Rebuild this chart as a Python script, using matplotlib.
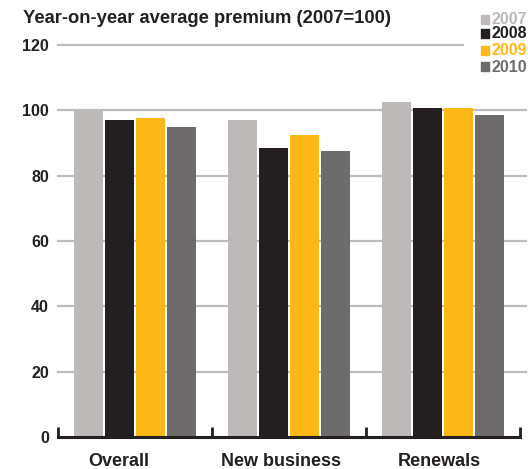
import matplotlib
matplotlib.use("Agg")
import matplotlib.pyplot as plt
from matplotlib.patches import Rectangle
import matplotlib.transforms as mtransforms
import numpy as np

categories = ["Overall", "New business", "Renewals"]
years = ["2007", "2008", "2009", "2010"]
values = {
    "2007": [100, 97, 102.5],
    "2008": [97, 88.5, 100.7],
    "2009": [97.8, 92.5, 100.8],
    "2010": [94.8, 87.7, 98.7],
}
colors = {"2007": "#BCB9B8", "2008": "#231F20", "2009": "#FBB817", "2010": "#6D6B6B"}
yticks = [0, 20, 40, 60, 80, 100, 120]
title = "Year-on-year average premium (2007=100)"

plt.rcParams["font.family"] = ["Liberation Sans", "DejaVu Sans"]
plt.rcParams["font.weight"] = "bold"

W, H = 528, 469
fig = plt.figure(figsize=(W / 100, H / 100), dpi=100)
x0, x1 = 58, 520
y0, y1 = 437, 45
ax = fig.add_axes([x0 / W, 1 - y0 / H, (x1 - x0) / W, (y0 - y1) / H])

x = np.arange(len(categories))
bw = 0.188
step = 0.2
for i, yr in enumerate(years):
    off = (i - 1.5) * step
    ax.bar(x + off, values[yr], width=bw, color=colors[yr], zorder=3, linewidth=0)

ax.set_xlim(-0.5, 2.5)
ax.set_ylim(0, 120)

grid_c = "#BEBCBC"
for t in yticks[1:]:
    xe = (526 - x0) / (x1 - x0) if t != 120 else (463 - x0) / (x1 - x0)
    ax.axhline(t, xmin=0, xmax=xe, color=grid_c, lw=1.6, zorder=1, clip_on=False)

for s in ["top", "right", "left"]:
    ax.spines[s].set_visible(False)
ax.spines["bottom"].set_color("#231F20")
ax.spines["bottom"].set_linewidth(2.2)
ax.spines["bottom"].set_zorder(4)

ax.set_yticks(yticks)
ax.set_yticklabels([str(t) for t in yticks], fontsize=11.5, fontweight="bold", color="#231F20")
ax.tick_params(axis="y", length=0, pad=6.5)

ax.set_xticks(x)
ax.set_xticklabels(categories, fontsize=13, fontweight="bold", color="#231F20")
ax.tick_params(axis="x", which="major", length=0, pad=11.5)
ax.set_xticks([-0.5, 0.5, 1.5, 2.5], minor=True)
ax.tick_params(axis="x", which="minor", direction="in", length=7, width=2, color="#231F20")

label_shift_px = [-16, -8, -3.5]
for lbl, dx in zip(ax.get_xticklabels(), label_shift_px):
    lbl.set_transform(lbl.get_transform() + mtransforms.ScaledTranslation(dx / 100, 0, fig.dpi_scale_trans))

fig.text(23 / W, 1 - 23.3 / H, title, fontsize=13.2, fontweight="bold", color="#231F20",
         ha="left", va="baseline")

baselines = [24, 38.5, 55, 71.5]
for i, yr in enumerate(years):
    yb = baselines[i]
    fig.patches.append(Rectangle((481 / W, 1 - yb / H), 8 / W, 9 / H,
                                 transform=fig.transFigure, color=colors[yr], figure=fig))
    fig.text(492 / W, 1 - yb / H, yr, fontsize=11.5, fontweight="bold", color=colors[yr],
             ha="left", va="baseline")

fig.savefig("out.png", dpi=100)
